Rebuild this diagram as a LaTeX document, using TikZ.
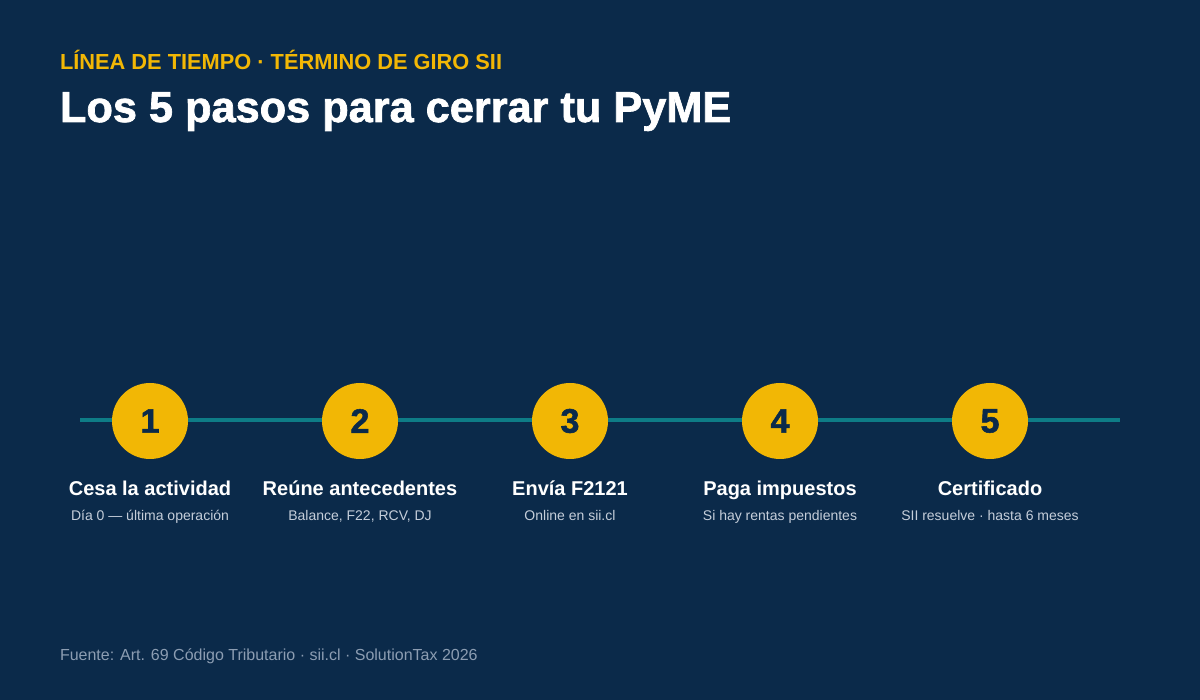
\documentclass[tikz,border=0pt]{standalone}
\usepackage{fontspec}
\setmainfont{Liberation Sans}
\newfontfamily\heavyfont[BoldFeatures={FakeBold=1.6}]{Liberation Sans}
\usepackage{tikz}
\usetikzlibrary{positioning}
\usepackage{xcolor}
\definecolor{navy}{HTML}{0B2A4A}
\definecolor{gold}{HTML}{F2B705}
\definecolor{teal}{HTML}{0E7C86}
\definecolor{subgray}{HTML}{C5CEDA}
\definecolor{footgray}{HTML}{8C9DB2}

\begin{document}
\begin{tikzpicture}[x=1pt,y=-1pt,
	  every node/.style={inner sep=0pt,outer sep=0pt},
	  kicker/.style={anchor=base west,text=gold,font=\bfseries\fontsize{21.8}{24}\selectfont},
	  headline/.style={anchor=base west,text=white,font=\heavyfont\bfseries\fontsize{43.3}{48}\selectfont},
	  stepdot/.style={circle,fill=gold,minimum size=76pt,text=navy,font=\heavyfont\bfseries\fontsize{34}{36}\selectfont},
	  steptitle/.style={anchor=base,text=white,font=\bfseries\fontsize{20}{22}\selectfont},
	  stepnote/.style={anchor=base,text=subgray,font=\fontsize{14}{16}\selectfont},
	  source/.style={anchor=base west,text=footgray,font=\fontsize{16}{18}\selectfont},
	  track/.style={draw=teal,line width=3.5pt}]

	  % background
	  \fill[navy] (0,0) rectangle (1200,700);
	  \useasboundingbox (0,0) rectangle (1200,700);

	  % heading
	  \node[kicker] (kicker) at (60,70) {LÍNEA DE TIEMPO · TÉRMINO DE GIRO SII};
	  \node[headline] (headline) at (60,122) {Los 5 pasos para cerrar tu PyME};

	  % timeline
	  \coordinate (start) at (80,420);
	  \coordinate (end) at (1120,420);
	  \draw[track] (start) -- (end);

	  \foreach \n/\x/\title/\note in {
	      1/150/Cesa la actividad/Día 0 — última operación,
	      2/360/Reúne antecedentes/{Balance, F22, RCV, DJ},
	      3/570/Envía F2121/Online en sii.cl,
	      4/780/Paga impuestos/Si hay rentas pendientes,
	      5/990/Certificado/SII resuelve · hasta 6 meses}{
	    \node[stepdot] (step\n) at (\x,421) {\n};
	    \node[steptitle] (title\n) at (\x,495) {\title};
	    \node[stepnote] (note\n) at (\x,520) {\note};
	  }

	  % footer
	  \node[source] (source) at (60,660) {Fuente: Art. 69 Código Tributario · sii.cl · SolutionTax 2026};
\end{tikzpicture}
\end{document}
